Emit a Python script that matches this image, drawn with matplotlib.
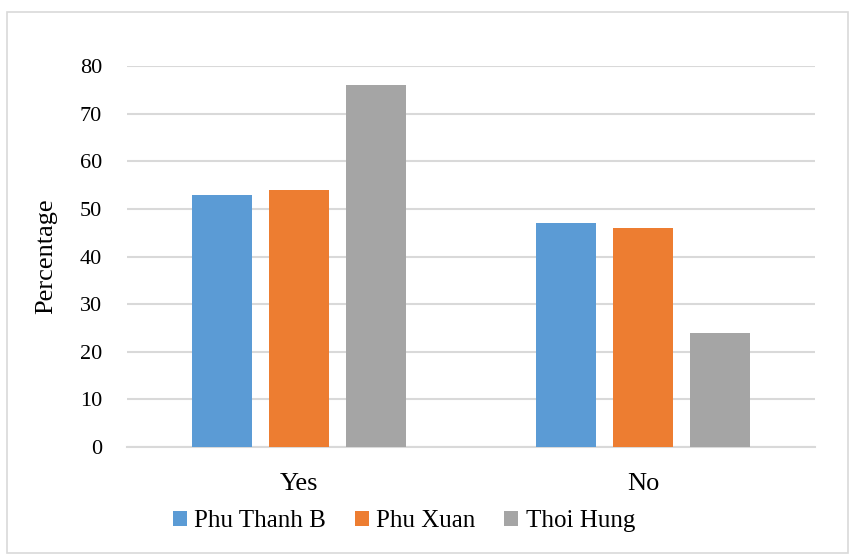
import numpy as np
import matplotlib.pyplot as plt
from matplotlib.patches import Rectangle

categories = ["Yes", "No"]
series_names = ["Phu Thanh B", "Phu Xuan", "Thoi Hung"]
phu_thanh_b = [53, 47]
phu_xuan = [54, 46]
thoi_hung = [76, 24]
colors = ["#5B9BD5", "#ED7D31", "#A5A5A5"]

plt.rcParams['font.family'] = ['Liberation Serif', 'DejaVu Serif']

fig = plt.figure(figsize=(8.49, 5.54), dpi=100)
ax = fig.add_axes([127/849, 107/554, 688/849, 381/554])

x = np.arange(len(categories))
width = 0.174
offset = 0.224
for i, (vals, name) in enumerate(zip([phu_thanh_b, phu_xuan, thoi_hung], series_names)):
    ax.bar(x + (i - 1) * offset, vals, width, color=colors[i], label=name, zorder=3)

ax.set_xlim(-0.5, 1.5)
ax.set_ylim(0, 80)
ax.set_yticks(range(0, 81, 10))
ax.set_xticks(x)
ax.set_xticklabels(categories, fontsize=19)
ax.tick_params(axis='y', labelsize=16, length=0, pad=18)
ax.tick_params(axis='x', length=0, pad=19)
ax.grid(axis='y', color='#D9D9D9', linewidth=1.5, zorder=0)
for s in ['top', 'right', 'left']:
    ax.spines[s].set_visible(False)
ax.spines['bottom'].set_color('#D9D9D9')
ax.spines['bottom'].set_linewidth(1.5)
ax.set_ylabel("Percentage", fontsize=19, labelpad=16)

fig.legend(loc='center', bbox_to_anchor=(404/849, 1 - 521/554), ncol=3, frameon=False,
           fontsize=18, handlelength=0.55, handleheight=0.55, handletextpad=0.3, columnspacing=1.15)

fig.patches.append(Rectangle((7/849, 1/554), 841/849, 541/554, transform=fig.transFigure,
                             fill=False, edgecolor='#D9D9D9', linewidth=1.2))

fig.savefig("out.png", dpi=100)
